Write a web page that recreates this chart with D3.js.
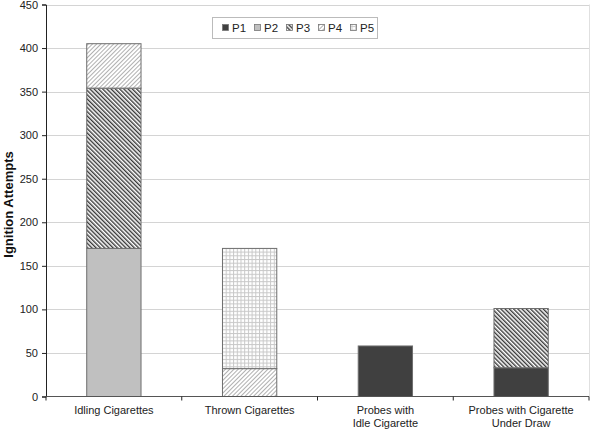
<!DOCTYPE html>
<html><head><meta charset="utf-8">
<script src="https://cdn.jsdelivr.net/npm/d3@7/dist/d3.min.js"></script>
<style>body{margin:0;background:#fff}svg{display:block}text{font-family:"Liberation Sans",Arial,sans-serif;}</style>
</head><body>
<script>
const categories = [["Idling Cigarettes"],["Thrown Cigarettes"],["Probes with","Idle Cigarette"],["Probes with Cigarette","Under Draw"]];
const seriesNames = ["P1","P2","P3","P4","P5"];
const P1 = [0, 0, 58, 33];
const P2 = [170, 0, 0, 0];
const P3 = [184, 0, 0, 68];
const P4 = [51, 32, 0, 0];
const P5 = [0, 138, 0, 0];
const yTicks = [0,50,100,150,200,250,300,350,400,450];
const series = [P1,P2,P3,P4,P5];

const W=591,H=432;
const svg=d3.select("body").append("svg").attr("width",W).attr("height",H);
const defs=svg.append("defs");
let p=defs.append("pattern").attr("id","pat3").attr("patternUnits","userSpaceOnUse").attr("width",3).attr("height",3).attr("patternTransform","rotate(-45)");
p.append("rect").attr("width",3).attr("height",3).attr("fill","#fff");
p.append("rect").attr("width",1.4).attr("height",3).attr("fill","#383838");
p=defs.append("pattern").attr("id","pat4").attr("patternUnits","userSpaceOnUse").attr("width",3).attr("height",3).attr("patternTransform","rotate(45)");
p.append("rect").attr("width",3).attr("height",3).attr("fill","#fff");
p.append("rect").attr("width",1).attr("height",3).attr("fill","#b0b0b0");
p=defs.append("pattern").attr("id","pat5").attr("patternUnits","userSpaceOnUse").attr("width",3.7).attr("height",3.7);
p.append("rect").attr("width",3.7).attr("height",3.7).attr("fill","#fff");
p.append("rect").attr("width",1).attr("height",3.7).attr("fill","#c8c8c8");
p.append("rect").attr("width",3.7).attr("height",1).attr("fill","#c8c8c8");
const fills=["#404040","#c0c0c0","url(#pat3)","url(#pat4)","url(#pat5)"];

const x0=46,x1=589,yTop=4.5,yBot=396.5;
const x=d3.scaleBand().domain(d3.range(categories.length)).range([x0,x1]).padding(0);
const y=d3.scaleLinear().domain([0,450]).range([yBot,yTop]);

svg.append("g").selectAll("line").data(yTicks.filter(d=>d>0)).join("line")
 .attr("x1",x0).attr("x2",x1).attr("y1",d=>Math.round(y(d))+0.5).attr("y2",d=>Math.round(y(d))+0.5)
 .attr("stroke","#d4d4d4").attr("stroke-width",1);
svg.append("line").attr("x1",x1+0.5).attr("x2",x1+0.5).attr("y1",yTop).attr("y2",yBot).attr("stroke","#e0e0e0");

const stackData=categories.map((c,i)=>{const o={i};seriesNames.forEach((s,k)=>o[s]=series[k][i]);return o;});
const stack=d3.stack().keys(seriesNames)(stackData);
const bw=x.bandwidth()*0.4;
stack.forEach((layer,k)=>{
  svg.append("g").selectAll("rect").data(layer.filter(d=>d[1]-d[0]>0)).join("rect")
   .attr("x",d=>x(d.data.i)+x.bandwidth()/2-bw/2)
   .attr("width",bw)
   .attr("y",d=>y(d[1]))
   .attr("height",d=>y(d[0])-y(d[1]))
   .attr("fill",fills[k]).attr("stroke","#6e6e6e").attr("stroke-width",1);
});

const ya=svg.append("g").attr("transform",`translate(${x0},0)`).call(d3.axisLeft(y).tickValues(yTicks).tickSize(4).tickPadding(4));
ya.select(".domain").attr("stroke","#222");
ya.selectAll(".tick line").attr("stroke","#222");
ya.selectAll("text").attr("font-size",11).attr("fill","#222");

const xa=svg.append("g").attr("transform",`translate(0,${yBot})`);
xa.append("line").attr("x1",x0-4).attr("x2",x1).attr("y1",0).attr("y2",0).attr("stroke","#555").attr("stroke-width",1.2);
xa.selectAll("line.t").data(d3.range(categories.length+1)).join("line").attr("class","t")
 .attr("x1",i=>x0+i*x.step()).attr("x2",i=>x0+i*x.step()).attr("y1",0).attr("y2",4).attr("stroke","#222");
categories.forEach((c,i)=>{
  const t=xa.append("text").attr("text-anchor","middle").attr("font-size",11).attr("fill","#222")
   .attr("x",x(i)+x.bandwidth()/2).attr("y",17);
  c.forEach((line,j)=>t.append("tspan").attr("x",x(i)+x.bandwidth()/2).attr("dy",j?13.5:0).text(line));
});

svg.append("text").attr("transform",`translate(13,${(yTop+yBot)/2+4}) rotate(-90)`)
 .attr("text-anchor","middle").attr("font-size",13).attr("font-weight","bold").attr("fill","#111").text("Ignition Attempts");

const lg=svg.append("g");
lg.append("rect").attr("x",212.5).attr("y",17.5).attr("width",165).attr("height",21).attr("fill","#fff").attr("stroke","#bbb");
seriesNames.forEach((s,k)=>{
  const lx=222+k*32;
  lg.append("rect").attr("x",lx+0.5).attr("y",24.5).attr("width",6).attr("height",6).attr("fill",fills[k]).attr("stroke","#777").attr("stroke-width",0.8);
  lg.append("text").attr("x",lx+10).attr("y",32).attr("font-size",11.5).attr("fill","#222").text(s);
});
</script>
</body></html>
